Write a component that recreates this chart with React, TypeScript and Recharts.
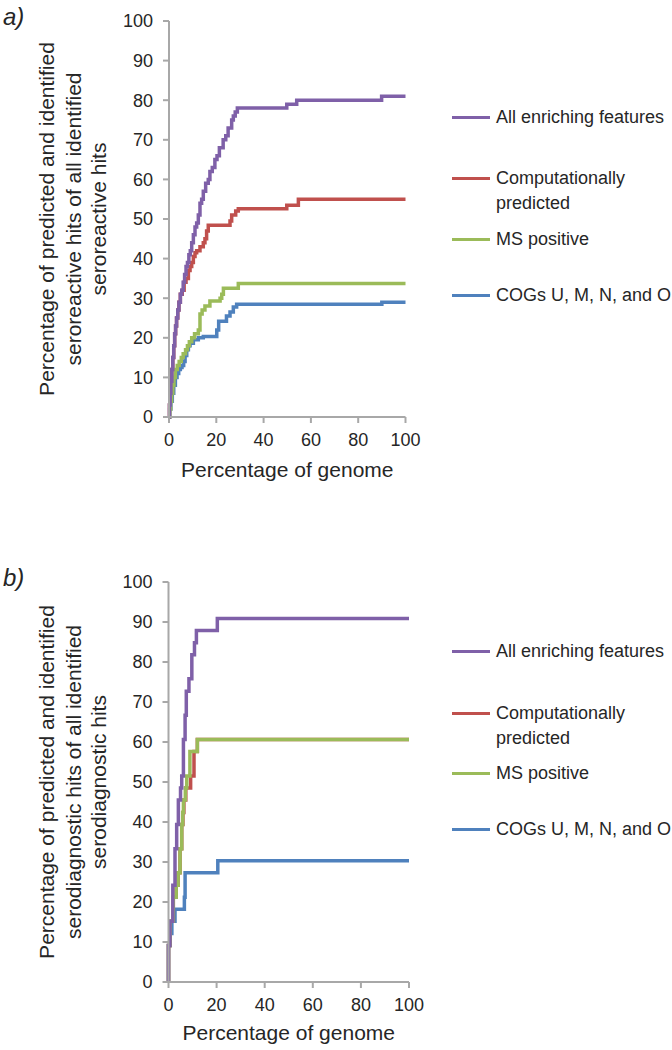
import React from 'react';
import { LineChart, Line, XAxis, YAxis, Legend } from 'recharts';

type Pt = [number, number];

const xTicks = [0, 20, 40, 60, 80, 100];
const yTicks = [0, 10, 20, 30, 40, 50, 60, 70, 80, 90, 100];

const seriesNames = ['All enriching features', 'Computationally\npredicted', 'MS positive', 'COGs U, M, N, and O'];
const seriesColors = ['#7f60a8', '#c0504d', '#9bbb59', '#4f81bd'];

// a) seroreactive hits, [percentage of genome, percentage of hits]
const reactiveAll: Pt[] = [
  [0, 0], [0.2, 3], [0.5, 6], [0.8, 9], [1.2, 12], [1.6, 15], [2.0, 18], [2.4, 21], [2.8, 23], [3.2, 25],
  [3.7, 27], [4.2, 29], [4.8, 31], [5.4, 32], [6.0, 34], [6.6, 36], [7.2, 38], [7.8, 39], [8.4, 41], [9.0, 42],
  [9.6, 44], [10.3, 46], [11.0, 48], [11.7, 49], [12.4, 51], [13.1, 54], [13.8, 55], [14.5, 57], [15.5, 59],
  [16.6, 60], [17.3, 62], [18.3, 63], [19.4, 65], [20.3, 66], [21.3, 68], [22.9, 70], [24.0, 71], [25.0, 73],
  [26.5, 75], [27.2, 76], [28.0, 77], [28.9, 78], [49.8, 79], [54.0, 80], [89.9, 81], [100, 81],
];
const reactivePredicted: Pt[] = [
  [0, 0], [0.2, 3], [0.5, 6], [0.8, 9], [1.2, 12], [1.6, 15], [2.0, 18], [2.4, 21], [2.8, 23], [3.2, 25],
  [3.7, 27], [4.2, 29], [4.8, 31], [5.6, 32], [6.4, 34], [7.2, 35], [8.2, 37], [8.9, 38], [9.6, 39], [10.3, 40.5],
  [11.0, 41.5], [11.7, 42], [13.1, 43], [14.5, 44], [15.2, 45], [15.9, 47], [16.6, 48.4], [25.8, 49.5],
  [26.5, 51], [28.2, 52], [29.3, 52.6], [49.8, 53.5], [54.7, 55], [100, 55],
];
const reactiveMs: Pt[] = [
  [0, 0], [0.3, 2], [0.7, 4], [1.1, 6], [1.6, 8], [2.1, 10], [2.7, 12], [3.5, 13], [4.3, 14], [5.2, 15],
  [6.0, 16], [7.0, 17], [7.8, 18], [8.6, 19], [9.6, 20], [10.8, 21], [12.4, 22], [13.1, 26], [14.0, 27],
  [15.2, 28], [17.3, 29.3], [21.6, 30], [22.3, 31], [23.0, 32.5], [29.3, 33.7], [100, 33.7],
];
const reactiveCogs: Pt[] = [
  [0, 0], [0.3, 2], [0.8, 4], [1.4, 6], [2.0, 8], [2.7, 10], [3.4, 11], [4.1, 12], [4.8, 12.5], [5.5, 13],
  [6.2, 14], [6.8, 15.5], [7.5, 17], [8.2, 18], [8.9, 18.6], [10.3, 19.5], [12.4, 20], [14.5, 20.3],
  [20.2, 22], [21.0, 24.2], [24.3, 25.5], [25.8, 26.5], [27.2, 27.8], [28.6, 28.5], [90.0, 29], [100, 29],
];

// b) serodiagnostic hits
const diagAll: Pt[] = [
  [0, 0], [0, 9.1], [0.6, 15.2], [1.8, 24.2], [2.7, 33.3], [3.4, 39.4], [4.1, 45.5], [5.0, 48.5], [5.5, 51.5],
  [6.2, 60.6], [6.9, 66.7], [7.4, 72.7], [8.5, 75.8], [9.7, 81.8], [10.8, 84.8], [11.6, 87.9], [20.3, 90.9],
  [100, 90.9],
];
const diagPredicted: Pt[] = [
  [0, 0], [0, 9.1], [0.6, 15.2], [2.0, 21.2], [3.2, 24.2], [4.0, 27.3], [4.8, 33.3], [5.5, 39.4], [6.0, 42.4],
  [6.4, 45.5], [7.2, 48.5], [9.2, 51.5], [10.6, 57.6], [12.0, 60.6], [100, 60.6],
];
const diagMs: Pt[] = [
  [0, 0], [0, 9.1], [0.6, 15.2], [2.0, 21.2], [3.2, 24.2], [4.0, 27.3], [4.8, 33.3], [5.5, 39.4], [5.9, 42.4],
  [6.2, 45.5], [7.0, 48.5], [7.6, 51.5], [8.9, 57.6], [12.0, 60.6], [100, 60.6],
];
const diagCogs: Pt[] = [
  [0, 0], [0, 9.1], [0.6, 12.1], [1.4, 15.2], [2.7, 18.2], [6.6, 21.2], [6.9, 27.3], [20.5, 30.3], [100, 30.3],
];

const FONT = '"Liberation Sans", Arial, Helvetica, sans-serif';
const INK = '#262626';
const AXIS = '#a8a8a8';
// drawing order: COGs, predicted, MS, all (last on top)
const drawOrder = [3, 1, 2, 0];

const toPoints = (pairs: Pt[]) => pairs.map(([x, y]) => ({ x, y }));

const YTitle = ({ lines, lineXs, midY }: { lines: string[]; lineXs: number[]; midY: number }) => (
  <g>
    {lines.map((t, i) => (
      <text
        key={i}
        x={lineXs[i]}
        y={midY}
        transform={`rotate(-90 ${lineXs[i]} ${midY})`}
        textAnchor="middle"
        fontSize={21}
        fontFamily={FONT}
        fill={INK}
      >
        {t}
      </text>
    ))}
  </g>
);

const XTitle = ({ posX, posY }: { posX: number; posY: number }) => (
  <text x={posX} y={posY} textAnchor="middle" fontSize={21} fontFamily={FONT} fill={INK}>
    Percentage of genome
  </text>
);

const LegendBox = ({ rows }: { rows: number[] }) => (
  <div style={{ position: 'relative', fontFamily: FONT, fontSize: 18, color: INK }}>
    {seriesNames.map((name, i) => (
      <div
        key={name}
        style={{ position: 'absolute', left: 0, top: rows[i] - 12, display: 'flex', alignItems: 'flex-start' }}
      >
        <span style={{ width: 38, height: 3, background: seriesColors[i], marginTop: 11, marginRight: 6 }} />
        <span style={{ lineHeight: '25px', whiteSpace: 'pre' }}>{name}</span>
      </div>
    ))}
  </div>
);

interface PanelProps {
  tag: string;
  top: number;
  plotLeft: number;
  plotRight: number;
  plotHeight: number;
  series: Pt[][];
  yTitle: string[];
  legendRows: number[];
  titleY: number;
}

const Panel: React.FC<PanelProps> = ({ tag, top, plotLeft, plotRight, plotHeight, series, yTitle, legendRows, titleY }) => {
  const height = 21 + plotHeight + 60 + 8;
  return (
    <div style={{ position: 'absolute', left: 0, top, width: 672, height }}>
      <LineChart
        width={672}
        height={height}
        margin={{ top: 21, right: 672 - plotRight, bottom: 8, left: 0 }}
        style={{ fontFamily: FONT }}
      >
        <XAxis
          type="number"
          dataKey="x"
          domain={[0, 100]}
          ticks={xTicks}
          height={60}
          tickSize={6}
          tickMargin={10}
          tick={{ fill: INK, fontSize: 18, fontFamily: FONT }}
          axisLine={{ stroke: AXIS, strokeWidth: 2 }}
          tickLine={{ stroke: AXIS, strokeWidth: 2 }}
          label={<XTitle posX={(plotLeft + plotRight) / 2} posY={titleY} />}
        />
        <YAxis
          type="number"
          domain={[0, 100]}
          ticks={yTicks}
          width={plotLeft}
          tickSize={6}
          tickMargin={10}
          tick={{ fill: INK, fontSize: 18, fontFamily: FONT }}
          axisLine={{ stroke: AXIS, strokeWidth: 2 }}
          tickLine={{ stroke: AXIS, strokeWidth: 2 }}
          label={<YTitle lines={yTitle} lineXs={[54, 81, 106]} midY={21 + plotHeight / 2} />}
        />
        <Legend
          layout="horizontal"
          verticalAlign="top"
          content={<LegendBox rows={legendRows} />}
          wrapperStyle={{ position: 'absolute', left: 452, top: 0, width: 220, height: 0 }}
        />
        {drawOrder.map((i) => (
          <Line
            key={seriesNames[i]}
            data={toPoints(series[i])}
            dataKey="y"
            name={seriesNames[i]}
            type="stepAfter"
            stroke={seriesColors[i]}
            strokeWidth={3.5}
            dot={false}
            activeDot={false}
            isAnimationActive={false}
          />
        ))}
      </LineChart>
      <div
        style={{ position: 'absolute', left: 3, top: 3, fontFamily: FONT, fontStyle: 'italic', fontSize: 24, color: INK }}
      >
        {tag}
      </div>
    </div>
  );
};

export default function App() {
  return (
    <div style={{ position: 'absolute', left: 0, top: 0, width: 672, height: 1050, background: '#fff' }}>
      <Panel
        tag="a)"
        top={0}
        plotLeft={169}
        plotRight={405.5}
        plotHeight={396}
        series={[reactiveAll, reactivePredicted, reactiveMs, reactiveCogs]}
        yTitle={['Percentage of predicted and identified', 'seroreactive hits of all identified', 'seroreactive hits']}
        legendRows={[117, 178, 239, 295]}
        titleY={477}
      />
      <Panel
        tag="b)"
        top={561}
        plotLeft={168.5}
        plotRight={409}
        plotHeight={400}
        series={[diagAll, diagPredicted, diagMs, diagCogs]}
        yTitle={['Percentage of predicted and identified', 'serodiagnostic hits of all identified', 'serodiagnostic hits']}
        legendRows={[90, 152, 212, 268]}
        titleY={479}
      />
    </div>
  );
}
